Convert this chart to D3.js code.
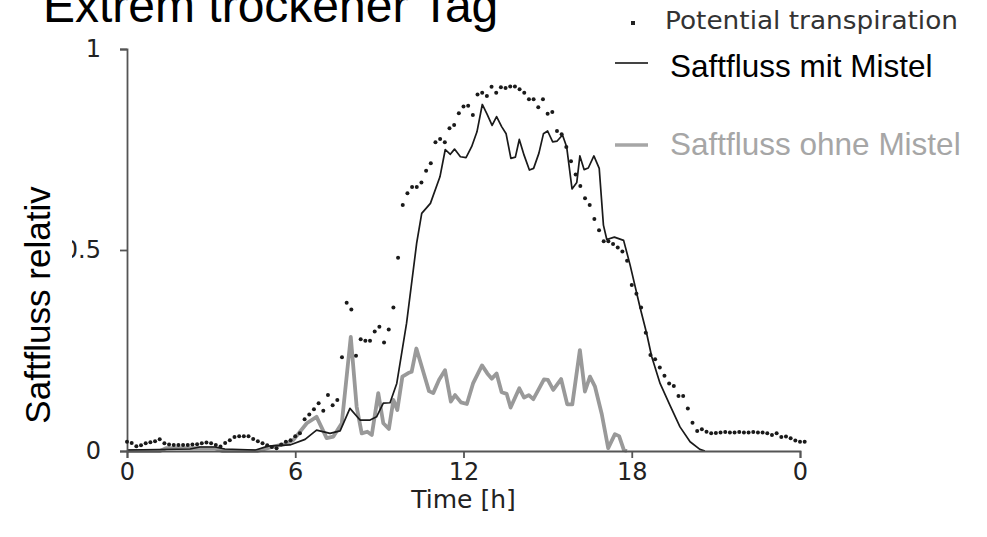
<!DOCTYPE html>
<html><head><meta charset="utf-8">
<script src="https://cdn.jsdelivr.net/npm/d3@7"></script>
<style>html,body{margin:0;padding:0;background:#fff;overflow:hidden}</style>
</head><body>
<svg id="c" width="987" height="537"></svg>
<script>
// ---- data ----
const xTicks = [0, 6, 12, 18, 24];
const xTickLabels = ["0", "6", "12", "18", "0"];
const yTicks = [0, 0.5, 1];
const yTickLabels = ["0", "0.5", "1"];
const seriesNames = ["Potential transpiration", "Saftfluss mit Mistel", "Saftfluss ohne Mistel"];

// potential transpiration, one dot every 10 minutes from 0:00
const tpStepHours = 1 / 6;
const tpValues = [
 0.023,0.02,0.012,0.014,0.019,0.022,0.024,0.029,0.019,0.016,
 0.015,0.015,0.015,0.015,0.016,0.017,0.019,0.021,0.019,0.015,
 0.011,0.02,0.027,0.035,0.037,0.037,0.037,0.03,0.024,0.019,
 0.014,0.01,0.007,0.016,0.023,0.027,0.037,0.044,0.079,0.091,
 0.104,0.119,0.1,0.139,0.114,0.127,0.233,0.369,0.352,0.237,
 0.278,0.274,0.274,0.297,0.309,0.27,0.302,0.357,0.481,0.612,
 0.641,0.657,0.657,0.668,0.697,0.716,0.768,0.776,0.768,0.803,
 0.811,0.84,0.857,0.859,0.836,0.887,0.891,0.883,0.906,0.891,
 0.905,0.903,0.907,0.907,0.9,0.891,0.875,0.875,0.855,0.875,
 0.839,0.843,0.796,0.788,0.756,0.721,0.688,0.659,0.629,0.612,
 0.577,0.549,0.522,0.522,0.515,0.506,0.496,0.473,0.413,0.391,
 0.357,0.294,0.239,0.228,0.208,0.187,0.168,0.162,0.137,0.137,
 0.106,0.07,0.05,0.054,0.048,0.044,0.045,0.046,0.047,0.046,
 0.046,0.047,0.046,0.046,0.047,0.046,0.046,0.044,0.04,0.044,
 0.035,0.036,0.032,0.026,0.023,0.023];

// Saftfluss mit Mistel (hours, relative value)
const withTimes = [0,2.25,2.6,3.14,3.49,4.56,5.03,5.81,6.35,6.76,7.24,7.6,7.95,8.31,8.67,8.9,9.14,9.38,9.62,9.97,
 10.33,10.51,10.82,11.16,11.35,11.53,11.68,11.89,12.09,12.29,12.48,12.67,12.84,13.02,13.18,13.36,13.52,13.69,13.85,13.99,
 14.16,14.35,14.5,14.69,14.85,15.0,15.18,15.34,15.53,15.68,15.87,16.04,16.15,16.3,16.45,16.65,16.84,16.99,17.11,17.38,
 17.71,17.94,18.29,18.53,18.71,19.01,19.36,19.72,20.08,20.43,20.61];
const withValues = [0.002,0.005,0.01,0.01,0.005,0.002,0.012,0.015,0.029,0.052,0.044,0.05,0.106,0.077,0.077,0.085,0.119,0.12,0.168,0.318,
 0.517,0.591,0.616,0.682,0.75,0.738,0.751,0.732,0.73,0.757,0.794,0.862,0.838,0.81,0.832,0.807,0.789,0.728,0.731,0.775,
 0.736,0.699,0.703,0.741,0.789,0.796,0.769,0.771,0.786,0.756,0.652,0.668,0.734,0.7,0.704,0.734,0.703,0.562,0.526,0.532,
 0.524,0.463,0.359,0.293,0.235,0.168,0.114,0.06,0.023,0.004,0];

// Saftfluss ohne Mistel
const withoutTimes = [0,1.18,1.39,3.14,3.39,4.67,5.17,5.63,5.93,6.41,6.76,7.12,7.36,7.66,7.98,8.19,8.37,8.57,8.73,8.96,
 9.14,9.34,9.5,9.64,9.82,10.03,10.15,10.32,10.51,10.77,10.92,11.13,11.34,11.55,11.7,11.91,12.12,12.34,12.66,12.85,
 13.01,13.18,13.36,13.54,13.68,13.99,14.16,14.33,14.49,14.67,14.87,15.01,15.2,15.48,15.7,15.88,16.15,16.33,16.51,16.69,
 16.93,17.16,17.4,17.55,17.72,17.83];
const withoutValues = [0,0,0.007,0.007,0,0,0.01,0.017,0.027,0.069,0.085,0.032,0.036,0.069,0.284,0.11,0.044,0.048,0.04,0.144,
 0.069,0.055,0.127,0.102,0.185,0.194,0.197,0.255,0.21,0.149,0.144,0.177,0.201,0.123,0.139,0.121,0.117,0.168,0.213,0.193,
 0.18,0.193,0.146,0.142,0.108,0.156,0.133,0.139,0.129,0.152,0.178,0.177,0.152,0.179,0.116,0.116,0.251,0.148,0.185,0.16,
 0.092,0.007,0.042,0.037,0.002,0];

// ---- drawing ----
const svg = d3.select("#c");
const x = d3.scaleLinear().domain([0, 24]).range([127, 800]);
const y = d3.scaleLinear().domain([0, 1]).range([451, 49]);

const tpData = tpValues.map((v, i) => ({t: i * tpStepHours, v}));
const withData = withTimes.map((t, i) => ({t, v: withValues[i]}));
const withoutData = withoutTimes.map((t, i) => ({t, v: withoutValues[i]}));

const line = d3.line().x(d => x(d.t)).y(d => y(d.v));

// title (cut at the top as in the original)
svg.append("text").attr("x", 43).attr("y", 22)
  .attr("font-family", "Liberation Sans, Arial, sans-serif").attr("font-size", 48)
  .attr("fill", "#000").text("Extrem trockener Tag");

// data
svg.append("path").datum(withoutData).attr("d", line)
  .attr("fill", "none").attr("stroke", "#999").attr("stroke-width", 3.8).attr("stroke-linejoin", "round");
svg.append("path").datum(withData).attr("d", line)
  .attr("fill", "none").attr("stroke", "#1a1a1a").attr("stroke-width", 1.7).attr("stroke-linejoin", "round");

// axes
const axisColor = "#555";
const xAxis = d3.axisBottom(x).tickValues(xTicks).tickFormat((d, i) => xTickLabels[i]).tickSizeOuter(0).tickSize(7).tickPadding(5);
const gx = svg.append("g").attr("transform", `translate(0,${y(0)})`).call(xAxis);
const yAxis = d3.axisLeft(y).tickValues(yTicks).tickFormat((d, i) => yTickLabels[i]).tickSizeOuter(0).tickSize(7).tickPadding(19);
const gy = svg.append("g").attr("transform", `translate(${x(0)},0)`).call(yAxis);
[gx, gy].forEach(g => {
  g.select(".domain").attr("stroke", axisColor).attr("stroke-width", 1.8);
  g.selectAll(".tick line").attr("stroke", axisColor).attr("stroke-width", 1.8);
  g.selectAll(".tick text").attr("font-family", "DejaVu Sans, Verdana, sans-serif")
    .attr("font-size", 24).attr("fill", "#222");
});

// dots
svg.append("g").selectAll("circle").data(tpData).join("circle")
  .attr("cx", d => x(d.t)).attr("cy", d => y(d.v)).attr("r", 2).attr("fill", "#1a1a1a");

// x axis title
svg.append("text").attr("x", x(12)).attr("y", 508).attr("text-anchor", "middle")
  .attr("font-family", "DejaVu Sans, Verdana, sans-serif").attr("font-size", 25).attr("fill", "#222")
  .text("Time [h]");

// y axis title with white box behind it
svg.append("rect").attr("x", 16).attr("y", 178).attr("width", 56).attr("height", 255).attr("fill", "#fff");
svg.append("text").attr("transform", "translate(50,305) rotate(-90)").attr("text-anchor", "middle")
  .attr("font-family", "Liberation Sans, Arial, sans-serif").attr("font-size", 35).attr("fill", "#000")
  .text("Saftfluss relativ");

// legend
const lg = svg.append("g");
lg.append("rect").attr("x", 631).attr("y", 21).attr("width", 4).attr("height", 4).attr("fill", "#222");
lg.append("text").attr("x", 665).attr("y", 29).attr("font-family", "DejaVu Sans, Verdana, sans-serif")
  .attr("font-size", 24).attr("fill", "#333").attr("textLength", 293).attr("lengthAdjust", "spacingAndGlyphs")
  .text(seriesNames[0]);
lg.append("line").attr("x1", 615).attr("x2", 648).attr("y1", 63).attr("y2", 63)
  .attr("stroke", "#444").attr("stroke-width", 2);
lg.append("text").attr("x", 670).attr("y", 77).attr("font-family", "Liberation Sans, Arial, sans-serif")
  .attr("font-size", 31.5).attr("fill", "#000").text(seriesNames[1]);
lg.append("line").attr("x1", 615).attr("x2", 648).attr("y1", 145).attr("y2", 145)
  .attr("stroke", "#a6a6a6").attr("stroke-width", 3.5);
lg.append("text").attr("x", 670).attr("y", 155).attr("font-family", "Liberation Sans, Arial, sans-serif")
  .attr("font-size", 31.5).attr("fill", "#a6a6a6").text(seriesNames[2]);
</script>
</body></html>
